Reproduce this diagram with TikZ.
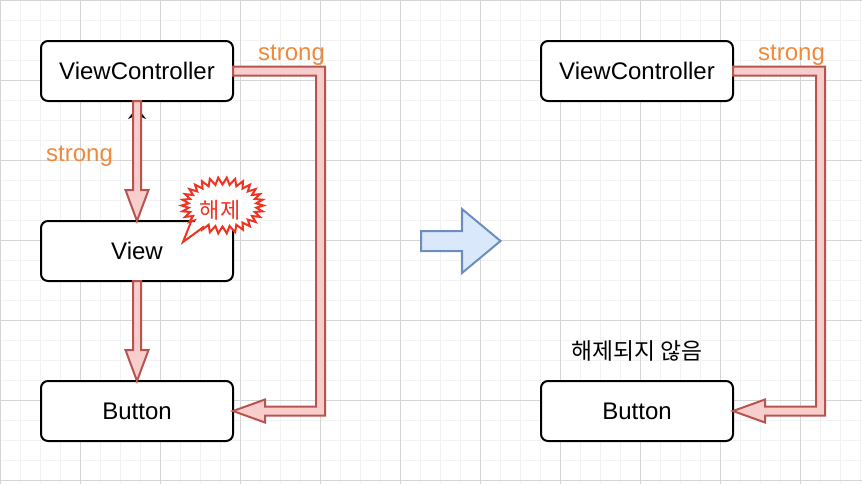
\documentclass[tikz,border=0pt]{standalone}
\usepackage{fontspec}
\setmainfont{Liberation Sans}
\newfontfamily\krfont{Noto Sans CJK KR}
\usetikzlibrary{positioning,calc,arrows.meta}

\definecolor{minorgrid}{HTML}{F2F2F2}
\definecolor{majorgrid}{HTML}{D5D5D5}
\definecolor{arrowfill}{HTML}{F8CECC}
\definecolor{arrowline}{HTML}{B85450}
\definecolor{bluefill}{HTML}{DAE8FC}
\definecolor{blueline}{HTML}{6C8EBF}
\definecolor{strongorange}{HTML}{F0893A}
\definecolor{burstred}{HTML}{EE3322}

\tikzset{
  objbox/.style={draw, fill=white, rounded corners=3.5pt, line width=1pt,
    minimum width=96pt, minimum height=30pt, inner sep=0pt, outer sep=0pt,
    font=\fontsize{12}{14}\selectfont},
  reflabel/.style={text=strongorange, inner sep=0pt, font=\fontsize{12}{14}\selectfont},
  fatarrow/.style={fill=arrowfill, draw=arrowline, line width=1pt, line join=miter},
}

\begin{document}
\begin{tikzpicture}[x=0.5pt, y=-0.5pt]
  \useasboundingbox (0,0) rectangle (862,484);
  % grid
  \foreach \g in {0,20,...,860} \draw[minorgrid, line width=0.5pt] (\g,0) -- (\g,484);
  \foreach \g in {0,20,...,480} \draw[minorgrid, line width=0.5pt] (0,\g) -- (862,\g);
  \foreach \g in {0,80,...,800} \draw[majorgrid, line width=0.5pt] (\g,0) -- (\g,484);
  \foreach \g in {0,80,...,480} \draw[majorgrid, line width=0.5pt] (0,\g) -- (862,\g);

  % before
  \node (vc) [objbox] at (137,71) {ViewController};
  \node (view) [objbox, below=60pt of vc] {View};
  \node (btn) [objbox, below=50pt of view] {Button};
  % after
  \node (vcb) [objbox, right=154pt of vc] {ViewController};
  \node (btnb) [objbox, right=154pt of btn] {Button};

  \draw[line width=1pt, -{Stealth[length=6pt,width=9pt]}] (view.north) -- ($(vc.south)+(0,6)$);

  \foreach \a/\b in {vc/view, view/btn}
    \draw[fatarrow] ($(\a.south)+(-4,0)$) -- ($(\b.north)+(-4,-31)$)
      -- ($(\b.north)+(-11.5,-31)$) -- (\b.north) -- ($(\b.north)+(11.5,-31)$)
      -- ($(\b.north)+(4,-31)$) -- ($(\a.south)+(4,0)$) -- cycle;

  \foreach \a/\b in {vc/btn, vcb/btnb}
    \draw[fatarrow] ($(\a.east)+(0,-4.5)$) -- ($(\a.east)+(92,-4.5)$)
      -- ($(\b.east)+(92,4.5)$) -- ($(\b.east)+(32,4.5)$) -- ($(\b.east)+(32,11.5)$)
      -- (\b.east) -- ($(\b.east)+(32,-11.5)$) -- ($(\b.east)+(32,-4.5)$)
      -- ($(\b.east)+(83,-4.5)$) -- ($(\a.east)+(83,4.5)$) -- ($(\a.east)+(0,4.5)$) -- cycle;

  \node (s1) [reflabel] at ($(vc.east)+(58.5,-16)$) {strong};
  \node (s2) [reflabel] at ($(vc.south)+(-57.5,55)$) {strong};
  \node (s3) [reflabel] at ($(vcb.east)+(58.5,-16)$) {strong};

  % released burst
  \begin{scope}[shift={($(view.north east)+(-10.5,-15.5)$)}]
    \draw[burstred, fill=white, line width=1pt, line join=miter]
      plot[samples=61, domain=0:360] ({(37.5+3.5*cos(30*\x))*cos(\x)}, {(24.5+3.5*cos(30*\x))*sin(\x)}) -- cycle;
    \fill[white] (-14.8,16.6) -- (-24.2,11) -- (-39.5,36.5) -- cycle;
    \draw[burstred, line width=1pt, line join=miter] (-18.5,21.2) -- (-39.5,36.5) -- (-30.6,14);
    \node (rel) [text=burstred, inner sep=0pt, font=\krfont\fontsize{11}{13}\selectfont] at (-2.5,5) {해제};
  \end{scope}

  % middle arrow
  \draw[fill=bluefill, draw=blueline, line width=1pt, line join=miter]
    (421,231) -- (462,231) -- (462,209) -- (500.5,241) -- (462,273) -- (462,251) -- (421,251) -- cycle;

  \node (kept) [inner sep=0pt, font=\krfont\fontsize{11.4}{13}\selectfont] at ($(btnb.north)+(0,-30)$) {해제되지 않음};
\end{tikzpicture}
\end{document}
